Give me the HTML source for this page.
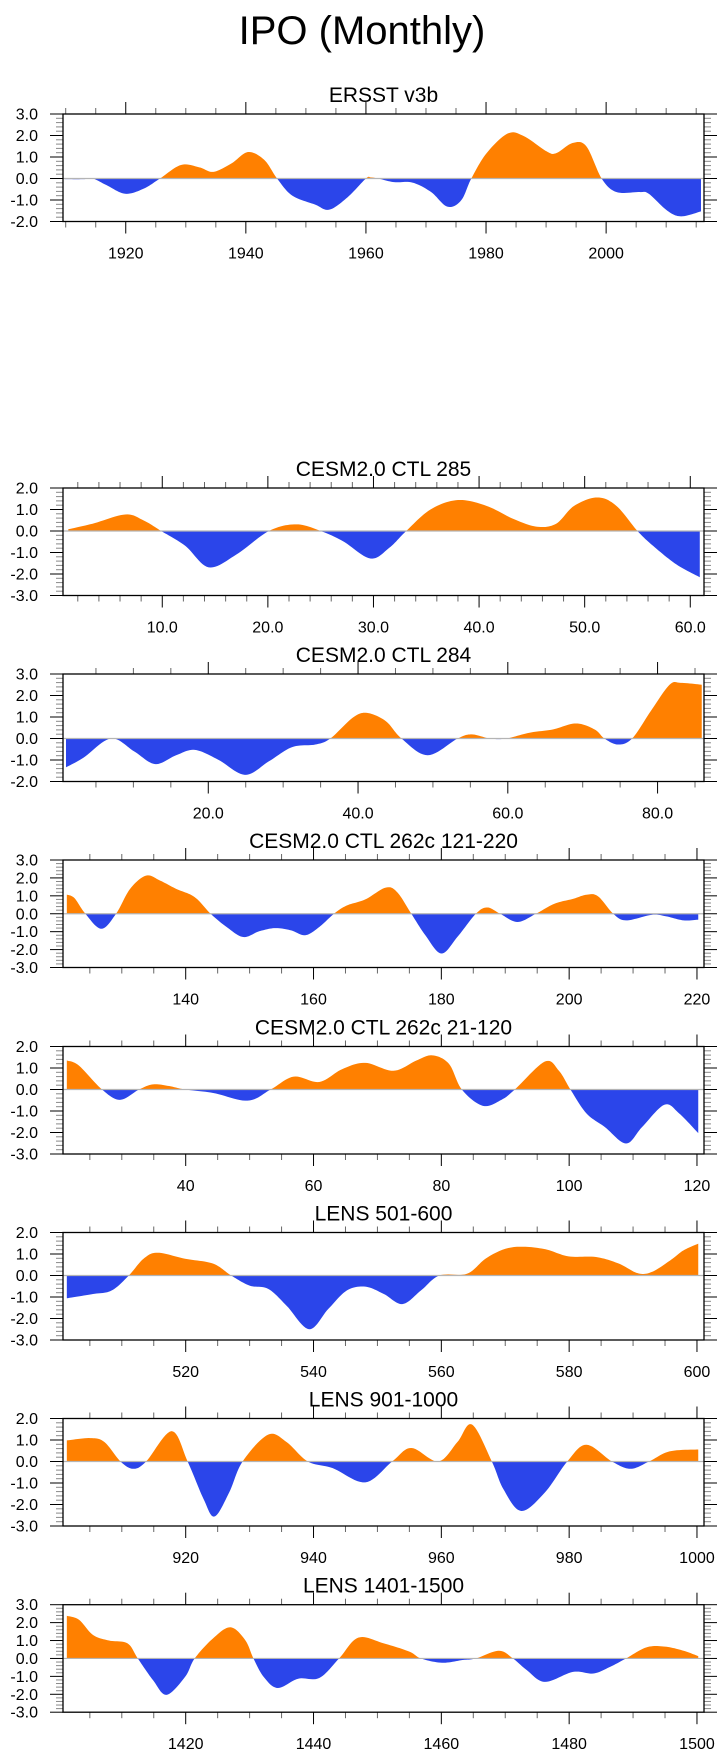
<!DOCTYPE html>
<html><head><meta charset="utf-8"><style>
html,body{margin:0;padding:0;background:#fff;}
svg text{font-family:"Liberation Sans",Arial,sans-serif;fill:#000;}
</style></head><body>
<svg id="chart" width="725" height="1758" viewBox="0 0 725 1758" xmlns="http://www.w3.org/2000/svg">
<text x="362" y="44" font-size="40" text-anchor="middle">IPO (Monthly)</text>
</svg>
<script>
// ---- data (x = time, y = IPO index) ----
const ersstX=[1909.85,1912.95,1914.5,1916.8,1919.9,1923.0,1925.7,1929.2,1932.25,1934.6,1937.65,1940.35,1943.05,1945.2,1947.7,1951.5,1953.9,1956.95,1960.0,1960.8,1962.0,1964.7,1967.75,1970.85,1973.55,1975.85,1977.55,1980.1,1983.6,1986.3,1990.1,1991.7,1994.4,1996.7,1999.25,2001.7,2005.6,2007.1,2010.2,2012.5,2015.8];
const ersstY=[-0.03,-0.03,0,-0.31,-0.71,-0.47,0,0.63,0.52,0.31,0.71,1.23,0.87,0,-0.79,-1.21,-1.45,-0.87,0,0.05,0,-0.17,-0.19,-0.63,-1.31,-1.02,0,1.18,2.09,1.97,1.26,1.18,1.65,1.5,0,-0.63,-0.63,-0.71,-1.5,-1.76,-1.53];
const c285X=[1.1,3.4,6.5,8.2,9.9,12.2,14.4,17.0,20.1,22.7,25.0,27.1,29.7,31.5,33.1,35.4,38.0,40.7,43.3,45.5,47.3,49.0,51.2,53.0,55.0,56.5,58.7,60.9];
const c285Y=[0.08,0.34,0.77,0.5,0,-0.7,-1.69,-1.1,0,0.31,0,-0.47,-1.28,-0.78,0,1.0,1.44,1.17,0.55,0.2,0.34,1.17,1.56,1.17,0,-0.7,-1.56,-2.15];
const c284X=[1.0,3.3,7.0,10.1,12.9,15.7,18.2,21.3,24.9,28.1,31.2,34.3,36.3,39.3,41.2,43.7,45.8,49.3,53.3,55.2,57.6,59.8,62.9,66.0,69.1,71.6,72.9,74.7,76.6,79.1,81.6,83.1,85.9];
const c284Y=[-1.34,-0.9,0,-0.6,-1.19,-0.78,-0.53,-0.98,-1.69,-1.06,-0.4,-0.28,0,0.97,1.19,0.81,0,-0.78,0,0.19,0,0,0.27,0.42,0.7,0.42,0,-0.28,0,1.28,2.5,2.59,2.5];
const c262bX=[121.4,122.6,124.3,126.8,129.1,131.3,133.8,136.0,138.5,141.4,143.9,146.4,149.0,151.5,154.0,156.5,158.7,160.9,163.2,165.2,168.1,171.3,173.1,175.3,177.5,180.0,182.5,185.4,187.2,189.2,191.9,194.8,197.7,200.6,202.7,204.5,206.9,208.9,212.9,215.0,217.9,220.2];
const c262bY=[1.07,0.87,0,-0.84,0,1.39,2.13,1.85,1.39,0.93,0,-0.74,-1.3,-0.98,-0.8,-0.93,-1.2,-0.74,0,0.46,0.8,1.46,1.2,0,-1.2,-2.22,-1.3,0,0.35,0,-0.46,0,0.56,0.83,1.06,0.98,0,-0.37,-0.06,-0.13,-0.37,-0.33];
const c262aX=[21.4,23.3,26.9,29.7,32.7,34.9,37.4,39.9,44.3,49.7,53.3,56.9,60.9,64.5,68.1,72.5,76.1,78.6,81.2,83.2,86.5,89.4,91.5,96.2,98.4,100.2,102.7,105.6,108.9,111.4,114.9,117.2,120.2];
const c262aY=[1.35,1.11,0,-0.48,0,0.24,0.16,0,-0.16,-0.52,0,0.6,0.35,0.95,1.24,0.87,1.35,1.59,1.19,0,-0.76,-0.48,0,1.3,0.87,0,-1.11,-1.75,-2.51,-1.75,-0.71,-1.11,-2.03];
const l501X=[501.4,505.5,508.4,511.1,513.4,515.6,519.9,524.3,527.1,530.0,532.9,535.8,539.3,542.3,545.2,548.1,551.0,553.9,556.8,559.7,564.0,566.9,569.8,572.6,576.3,579.9,584.2,587.8,590.7,592.9,595.8,597.9,600.2];
const l501Y=[-1.06,-0.86,-0.7,0,0.78,1.06,0.78,0.55,0,-0.47,-0.62,-1.41,-2.5,-1.56,-0.7,-0.52,-0.86,-1.33,-0.7,0,0.08,0.78,1.22,1.34,1.22,0.89,0.86,0.55,0.11,0.16,0.7,1.17,1.48];
const l901X=[901.4,905.1,907.3,909.8,911.8,913.8,917.8,920.3,922.8,924.5,926.8,928.9,932.9,935.8,939.1,943.0,948.1,952.3,955.3,959.5,962.5,964.8,967.9,969.7,972.5,976.2,979.7,982.7,986.7,989.6,992.5,995.7,1000.2];
const l901Y=[0.98,1.09,0.9,0,-0.34,0,1.41,0,-1.75,-2.56,-1.44,0,1.25,0.9,0,-0.31,-0.97,0,0.63,0,0.9,1.72,0,-1.28,-2.3,-1.44,0,0.78,0,-0.34,0,0.47,0.56];
const l1401X=[1401.4,1403.3,1405.5,1408.0,1410.9,1412.5,1414.9,1417.0,1419.9,1421.4,1424.3,1427.0,1429.3,1430.6,1432.2,1434.4,1437.6,1440.9,1444.0,1447.0,1451.0,1455.0,1456.8,1460.1,1463.3,1465.4,1469.0,1471.2,1473.4,1476.2,1480.6,1483.8,1486.4,1488.9,1492.1,1495.0,1497.9,1500.2];
const l1401Y=[2.38,2.16,1.31,1.0,0.84,0,-1.22,-2.03,-1.03,0,1.13,1.74,1.03,0,-1.03,-1.65,-1.13,-1.09,0,1.16,0.84,0.38,0,-0.24,-0.09,0,0.43,0,-0.66,-1.31,-0.75,-0.84,-0.47,0,0.62,0.66,0.43,0.13];

const NS='http://www.w3.org/2000/svg';
const svg=document.getElementById('chart');
function mk(tag,attrs,parent){const e=document.createElementNS(NS,tag);for(const k in attrs)e.setAttribute(k,attrs[k]);(parent||svg).appendChild(e);return e;}

const BL=63,BR=704,BH=107.5;
const panels=[
 {id:'ersst',title:'ERSST v3b',top:114,xmin:1909.55,xmax:2016.3,ymin:-2,ymax:3,maj:20,majStart:1920,min:5,dec:0,xs:ersstX,ys:ersstY},
 {id:'ctl285',title:'CESM2.0 CTL 285',top:488,xmin:0.6,xmax:61.3,ymin:-3,ymax:2,maj:10,majStart:10,min:2,dec:1,xs:c285X,ys:c285Y},
 {id:'ctl284',title:'CESM2.0 CTL 284',top:674,xmin:0.6,xmax:86.2,ymin:-2,ymax:3,maj:20,majStart:20,min:5,dec:1,xs:c284X,ys:c284Y},
 {id:'ctl262c-121-220',title:'CESM2.0 CTL 262c 121-220',top:860,xmin:120.8,xmax:221.1,ymin:-3,ymax:3,maj:20,majStart:140,min:5,dec:0,xs:c262bX,ys:c262bY},
 {id:'ctl262c-21-120',title:'CESM2.0 CTL 262c 21-120',top:1046.5,xmin:20.8,xmax:121.1,ymin:-3,ymax:2,maj:20,majStart:40,min:5,dec:0,xs:c262aX,ys:c262aY},
 {id:'lens-501-600',title:'LENS 501-600',top:1232.5,xmin:500.8,xmax:601.1,ymin:-3,ymax:2,maj:20,majStart:520,min:5,dec:0,xs:l501X,ys:l501Y},
 {id:'lens-901-1000',title:'LENS 901-1000',top:1418.5,xmin:900.8,xmax:1001.1,ymin:-3,ymax:2,maj:20,majStart:920,min:5,dec:0,xs:l901X,ys:l901Y},
 {id:'lens-1401-1500',title:'LENS 1401-1500',top:1604.7,xmin:1400.8,xmax:1501.1,ymin:-3,ymax:3,maj:20,majStart:1420,min:5,dec:0,xs:l1401X,ys:l1401Y}
];

panels.forEach((p,pi)=>{
  const top=p.top,bot=top+BH;
  const sx=v=>BL+(v-p.xmin)/(p.xmax-p.xmin)*(BR-BL);
  const sy=v=>bot-(v-p.ymin)/(p.ymax-p.ymin)*BH;
  const g=mk('g',{});
  
  
  const t=mk('text',{x:(BL+BR)/2,y:top-12,'font-size':21,'text-anchor':'middle'},g);
  t.textContent=p.title;
  
  
  // smooth curve (Catmull-Rom sampling)
  const pts=[];
  const n=p.xs.length;
  for(let i=0;i<n-1;i++){
    const x0=p.xs[Math.max(i-1,0)],y0=p.ys[Math.max(i-1,0)];
    const x1=p.xs[i],y1=p.ys[i],x2=p.xs[i+1],y2=p.ys[i+1];
    const x3=p.xs[Math.min(i+2,n-1)],y3=p.ys[Math.min(i+2,n-1)];
    for(let s=0;s<12;s++){
      const u=s/12,u2=u*u,u3=u2*u;
      const f=(a,b,c,d)=>0.5*((2*b)+(-a+c)*u+(2*a-5*b+4*c-d)*u2+(-a+3*b-3*c+d)*u3);
      pts.push([sx(f(x0,x1,x2,x3)),sy(f(y0,y1,y2,y3))]);
    }
  }
  pts.push([sx(p.xs[n-1]),sy(p.ys[n-1])]);
  const zy=sy(0);
  let d='M'+pts[0][0].toFixed(2)+','+zy.toFixed(2);
  pts.forEach(q=>{d+='L'+q[0].toFixed(2)+','+q[1].toFixed(2);});
  d+='L'+pts[pts.length-1][0].toFixed(2)+','+zy.toFixed(2)+'Z';
  const cu=mk('clipPath',{id:'cu'+pi},g);mk('rect',{x:BL,y:top,width:BR-BL,height:zy-top},cu);
  const cd=mk('clipPath',{id:'cd'+pi},g);mk('rect',{x:BL,y:zy,width:BR-BL,height:bot-zy},cd);
  const pos=mk('path',{d:d,fill:'#ff8000','clip-path':'url(#cu'+pi+')'},g);
  
  
  const neg=mk('path',{d:d,fill:'#2b45ea','clip-path':'url(#cd'+pi+')'},g);
  
  
  const zl=mk('line',{x1:BL,x2:BR,y1:zy,y2:zy,stroke:'#b4b4b4','stroke-width':1.2},g);
  
  
  // y ticks
  for(let v=p.ymin;v<=p.ymax+1e-6;v=Math.round((v+0.2)*10)/10){
    const y=sy(v);const major=Math.abs(v-Math.round(v))<1e-6;const L=major?13:7;
    mk('line',{x1:BL-L,x2:BL,y1:y,y2:y,stroke:major?'#000':'#888','stroke-width':1},g);
    mk('line',{x1:BR,x2:BR+L,y1:y,y2:y,stroke:major?'#000':'#888','stroke-width':1},g);
    if(major){const tl=mk('text',{x:38,y:y+5.5,'font-size':16,'text-anchor':'end'},g);tl.textContent=v.toFixed(1);
      
      }
  }
  // x ticks
  const first=Math.ceil(p.xmin/p.min)*p.min;
  for(let v=first;v<=p.xmax+1e-6;v+=p.min){
    const x=sx(v);const major=Math.abs(((v-p.majStart)%p.maj+p.maj)%p.maj)<1e-6;const L=major?12:6;
    mk('line',{x1:x,x2:x,y1:top-L,y2:top,stroke:major?'#000':'#666','stroke-width':1},g);
    mk('line',{x1:x,x2:x,y1:bot,y2:bot+L,stroke:major?'#000':'#666','stroke-width':1},g);
    if(major&&v>=p.majStart){const xl=mk('text',{x:x,y:bot+37,'font-size':16,'text-anchor':'middle'},g);xl.textContent=v.toFixed(p.dec);
      
      }
  }
  const box=mk('rect',{x:BL,y:top,width:BR-BL,height:BH,fill:'none',stroke:'#000','stroke-width':1.3},g);
  
  
});
</script>
</body></html>
